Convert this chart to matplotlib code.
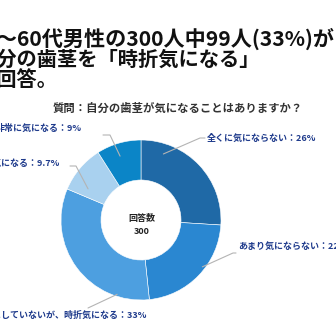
import matplotlib
matplotlib.use("Agg")
import matplotlib.pyplot as plt
import numpy as np

plt.rcParams['font.family'] = ['Noto Sans CJK JP', 'DejaVu Sans']

# Survey answers (clockwise from 12 o'clock) and respondent counts
categories = ["全くに気にならない", "あまり気にならない", "気にしていないが、時折気になる",
              "やや気になる", "非常に気になる"]
counts = [78, 67, 99, 29, 27]
colors = ["#1f69a6", "#2a87d1", "#4d9fe0", "#a9d1ef", "#0b85c7"]

title_lines = ["40～60代男性の300人中99人(33%)が", "自分の歯茎を「時折気になる」", "と回答。"]
question = "質問：自分の歯茎が気になることはありますか？"
center_caption = "回答数"

W = H = 336
fig = plt.figure(figsize=(W / 100, H / 100), dpi=100)
fig.patch.set_facecolor("white")

# donut geometry in pixels
cx, cy, R = 141, 220, 83
inner = 0.50
half = 100
ax = fig.add_axes([(cx - half) / W, (H - cy - half) / H, 2 * half / W, 2 * half / H])
lim = half / R
ax.set_xlim(-lim, lim)
ax.set_ylim(-lim, lim)
ax.set_aspect("equal")
ax.axis("off")

wedges, _ = ax.pie(counts, colors=colors, startangle=90, counterclock=False,
                   radius=1.0, wedgeprops=dict(width=1 - inner, linewidth=0.4, edgecolor="white"))

# overlay in pixel coordinates for text and leader lines
ov = fig.add_axes([0, 0, 1, 1], zorder=5)
ov.set_xlim(0, W)
ov.set_ylim(H, 0)
ov.axis("off")
ov.patch.set_alpha(0)

# headline (runs past the figure edges)
title_x = [-29, -24, -24]
title_y = [39, 59, 80]
title_size = [15.2, 14.6, 14.6]
for line, x, y, fs in zip(title_lines, title_x, title_y, title_size):
    ov.text(x, y, line, fontsize=fs, fontweight="bold", color="#111111",
            ha="left", va="center")

ov.text(178, 108, question, fontsize=8.2, fontweight="bold", color="#333333",
        ha="center", va="center")

total = sum(counts)
ov.text(142, 218, center_caption, fontsize=6.5, fontweight="bold", color="#222222",
        ha="center", va="center")
ov.text(142, 232, str(total), fontsize=6.5, fontweight="bold", color="#222222",
        ha="center", va="center")


def pct_text(c):
    p = round(100 * c / total, 1)
    s = f"{p:.1f}"
    return s[:-2] if s.endswith(".0") else s


# leader layout: anchor position within wedge, elbow, text position
anchor_frac = [0.80, 0.58, 0.80, 0.78, 0.56]
anchor_r = [0.84, 0.93, 0.94, 0.74, 0.81]
elbows = [[(200, 138), (205, 138)],
          [(233, 253), (236, 253)],
          [(88, 308)],
          [(76, 166), (70, 166)],
          [(110, 135), (103, 135)]]
label_pos = [(207, 138, "left"), (238, 246, "left"), (147, 315, "right"),
             (60, 163, "right"), (82, 128, "right")]

for w, cat, c, fr, rr, el, (lx, ly, ha) in zip(wedges, categories, counts, anchor_frac,
                                                 anchor_r, elbows, label_pos):
    t1, t2 = w.theta1, w.theta2
    a = np.deg2rad(t1 + fr * (t2 - t1))
    px = cx + R * rr * np.cos(a)
    py = cy - R * rr * np.sin(a)
    xs = [px] + [p[0] for p in el]
    ys = [py] + [p[1] for p in el]
    ov.plot(xs, ys, color="#b4b4b4", lw=0.8, solid_capstyle="round")
    ov.text(lx, ly, f"{cat}：{pct_text(c)}%", fontsize=6.5, fontweight="bold",
            color="#1f3b8c", ha=ha, va="center")

fig.savefig("out.png", dpi=100, facecolor="white")
